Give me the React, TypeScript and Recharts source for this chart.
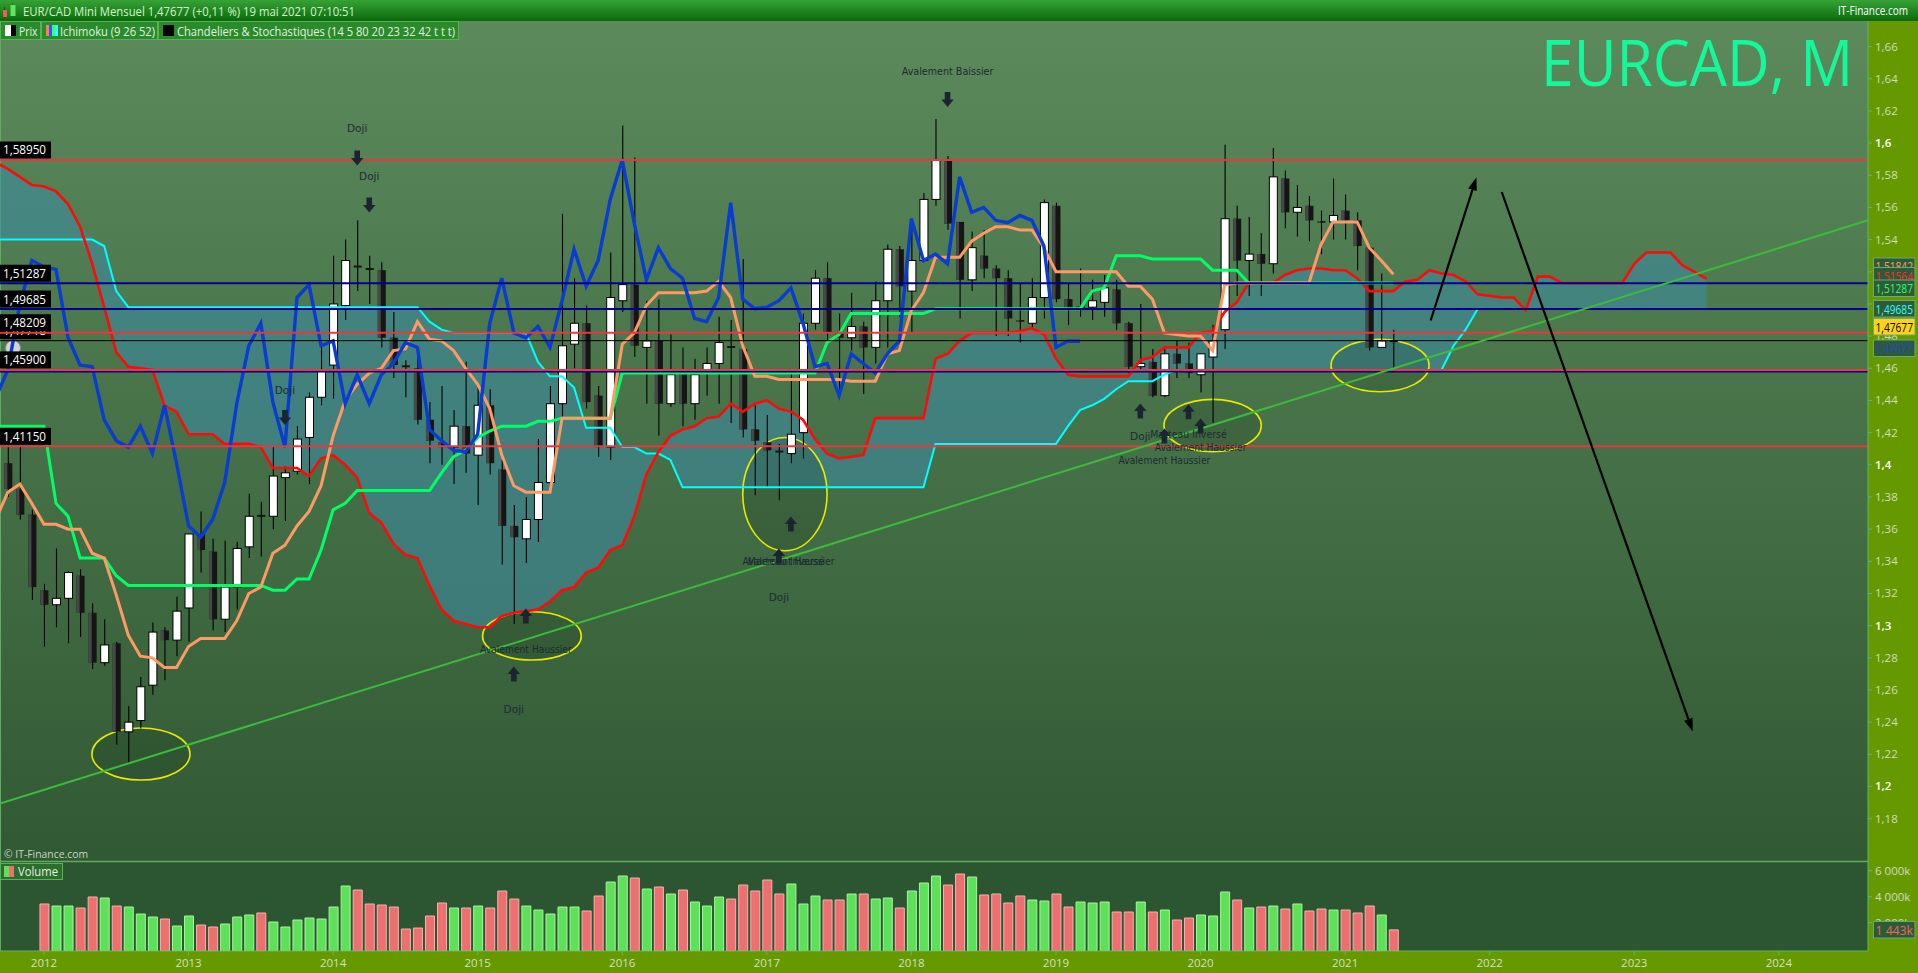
import React from 'react'
import {
  ComposedChart, Bar, Line, Area, XAxis, YAxis, Cell,
  ReferenceLine, ReferenceArea, ReferenceDot,
} from 'recharts'

// month index: 0 = janvier 2012
const CANDLE_START = -3 // octobre 2011
const LINE_START = -4 // indicateurs visibles dès le bord gauche

// OHLC mensuel EUR/CAD, oct 2011 -> mai 2021
const opens = [
  1.401, 1.385, 1.369,
  1.322, 1.313, 1.317, 1.331, 1.308, 1.277, 1.289, 1.234, 1.241, 1.263, 1.297, 1.291,
  1.311, 1.357, 1.346, 1.304, 1.324, 1.349, 1.3685, 1.368, 1.392, 1.396, 1.417, 1.442,
  1.462, 1.499, 1.5235, 1.522, 1.521, 1.479, 1.4615, 1.460, 1.428, 1.414, 1.411, 1.424,
  1.406, 1.437, 1.397, 1.362, 1.354, 1.366, 1.389, 1.438, 1.475, 1.488, 1.443, 1.411,
  1.502, 1.512, 1.473, 1.477, 1.438, 1.457, 1.438, 1.458, 1.463, 1.4735, 1.472, 1.422,
  1.414, 1.4085, 1.407, 1.420, 1.488, 1.516, 1.482, 1.479, 1.486, 1.473, 1.502, 1.534,
  1.508, 1.527, 1.565, 1.589, 1.551, 1.515, 1.530, 1.522, 1.516, 1.490, 1.488, 1.504,
  1.561, 1.503, 1.497, 1.498, 1.501, 1.509, 1.488, 1.461, 1.464, 1.443, 1.469, 1.463,
  1.456, 1.467, 1.484, 1.553, 1.527, 1.531, 1.525, 1.578, 1.557, 1.561, 1.5515, 1.551,
  1.558, 1.552, 1.535, 1.473, 1.477,
]
const highs = [
  1.412, 1.412, 1.372,
  1.326, 1.348, 1.334, 1.335, 1.314, 1.304, 1.290, 1.250, 1.268, 1.302, 1.299, 1.318,
  1.357, 1.371, 1.354, 1.353, 1.352, 1.382, 1.377, 1.411, 1.399, 1.424, 1.445, 1.476,
  1.530, 1.540, 1.552, 1.530, 1.526, 1.495, 1.465, 1.473, 1.439, 1.449, 1.434, 1.464,
  1.448, 1.447, 1.403, 1.375, 1.380, 1.416, 1.449, 1.556, 1.516, 1.499, 1.449, 1.532,
  1.611, 1.591, 1.502, 1.503, 1.481, 1.473, 1.466, 1.473, 1.492, 1.490, 1.528, 1.437,
  1.431, 1.413, 1.458, 1.494, 1.521, 1.526, 1.494, 1.507, 1.489, 1.514, 1.537, 1.536,
  1.553, 1.569, 1.615, 1.592, 1.551, 1.545, 1.546, 1.524, 1.521, 1.513, 1.516, 1.565,
  1.563, 1.513, 1.522, 1.515, 1.518, 1.515, 1.489, 1.500, 1.472, 1.472, 1.477, 1.476,
  1.469, 1.487, 1.599, 1.561, 1.554, 1.544, 1.597, 1.583, 1.574, 1.567, 1.558, 1.578,
  1.568, 1.557, 1.536, 1.519, 1.484,
]
const lows = [
  1.380, 1.366, 1.316,
  1.287, 1.299, 1.289, 1.293, 1.273, 1.275, 1.226, 1.214, 1.236, 1.257, 1.266, 1.281,
  1.290, 1.333, 1.297, 1.296, 1.310, 1.342, 1.343, 1.360, 1.365, 1.394, 1.388, 1.437,
  1.441, 1.490, 1.508, 1.500, 1.473, 1.454, 1.442, 1.425, 1.401, 1.400, 1.388, 1.395,
  1.375, 1.394, 1.338, 1.301, 1.339, 1.352, 1.389, 1.430, 1.460, 1.435, 1.405, 1.403,
  1.495, 1.467, 1.438, 1.418, 1.436, 1.424, 1.428, 1.443, 1.438, 1.426, 1.417, 1.381,
  1.386, 1.378, 1.401, 1.404, 1.484, 1.475, 1.444, 1.471, 1.444, 1.463, 1.473, 1.492,
  1.482, 1.526, 1.561, 1.546, 1.491, 1.508, 1.516, 1.480, 1.480, 1.476, 1.484, 1.491,
  1.501, 1.487, 1.492, 1.490, 1.492, 1.484, 1.457, 1.458, 1.442, 1.442, 1.454, 1.454,
  1.445, 1.426, 1.472, 1.505, 1.505, 1.505, 1.519, 1.547, 1.542, 1.539, 1.531, 1.540,
  1.540, 1.521, 1.471, 1.473, 1.459,
]
const closes = [
  1.385, 1.369, 1.324,
  1.313, 1.317, 1.333, 1.308, 1.277, 1.288, 1.234, 1.240, 1.262, 1.296, 1.291, 1.309,
  1.357, 1.347, 1.304, 1.324, 1.348, 1.368, 1.368, 1.393, 1.395, 1.416, 1.442, 1.459,
  1.500, 1.527, 1.523, 1.5215, 1.479, 1.462, 1.461, 1.428, 1.415, 1.411, 1.424, 1.407,
  1.437, 1.401, 1.362, 1.355, 1.366, 1.389, 1.438, 1.474, 1.488, 1.439, 1.411, 1.504,
  1.512, 1.474, 1.477, 1.438, 1.456, 1.438, 1.456, 1.463, 1.476, 1.473, 1.422, 1.415,
  1.409, 1.408, 1.419, 1.488, 1.516, 1.482, 1.479, 1.486, 1.473, 1.502, 1.534, 1.511,
  1.527, 1.565, 1.5895, 1.550, 1.515, 1.535, 1.522, 1.516, 1.491, 1.489, 1.504, 1.563,
  1.503, 1.497, 1.498, 1.502, 1.510, 1.488, 1.461, 1.463, 1.443, 1.469, 1.463, 1.457,
  1.469, 1.477, 1.553, 1.527, 1.531, 1.525, 1.579, 1.557, 1.560, 1.552, 1.5505, 1.555,
  1.552, 1.536, 1.473, 1.477, 1.47677,
]

// Ichimoku (9 26 52), sept 2011 -> mai 2021
const tenkan = [
  1.366, 1.383, 1.388, 1.376,
  1.363, 1.363, 1.360, 1.360, 1.345, 1.342, 1.319, 1.294, 1.281, 1.280, 1.274, 1.274,
  1.287, 1.292, 1.292, 1.292, 1.303, 1.320, 1.324, 1.345, 1.350, 1.362, 1.371, 1.387,
  1.418, 1.440, 1.450, 1.457, 1.460, 1.471, 1.472, 1.489, 1.478, 1.477, 1.471, 1.460,
  1.450, 1.435, 1.406, 1.387, 1.383, 1.383, 1.383, 1.429, 1.429, 1.429, 1.429, 1.429,
  1.475, 1.482, 1.499, 1.507, 1.507, 1.507, 1.507, 1.508, 1.514, 1.504, 1.474, 1.455,
  1.455, 1.453, 1.453, 1.453, 1.453, 1.453, 1.453, 1.452, 1.452, 1.452, 1.469, 1.471,
  1.496, 1.507, 1.529, 1.529, 1.529, 1.539, 1.544, 1.548, 1.548, 1.546, 1.546, 1.535,
  1.520, 1.520, 1.520, 1.520, 1.520, 1.520, 1.511, 1.511, 1.503, 1.482, 1.481, 1.480,
  1.480, 1.471, 1.512, 1.513, 1.513, 1.513, 1.513, 1.513, 1.513, 1.513, 1.537, 1.551,
  1.551, 1.551, 1.535, 1.527, 1.51842,
]
const kijun = [
  1.424, 1.424, 1.424, 1.424,
  1.424, 1.376, 1.368, 1.342, 1.342, 1.342, 1.331, 1.325, 1.325, 1.325, 1.325, 1.325,
  1.325, 1.325, 1.325, 1.325, 1.325, 1.325, 1.325, 1.322, 1.322, 1.329, 1.329, 1.347,
  1.372, 1.376, 1.384, 1.384, 1.384, 1.384, 1.384, 1.384, 1.384, 1.395, 1.405, 1.409,
  1.417, 1.421, 1.424, 1.424, 1.424, 1.427, 1.427, 1.429, 1.429, 1.429, 1.429, 1.429,
  1.457, 1.457, 1.457, 1.457, 1.457, 1.457, 1.457, 1.457, 1.457, 1.457, 1.457, 1.457,
  1.457, 1.457, 1.457, 1.457, 1.457, 1.476, 1.481, 1.494, 1.494, 1.494, 1.494, 1.494,
  1.494, 1.494, 1.497, 1.497, 1.497, 1.497, 1.497, 1.497, 1.497, 1.497, 1.497, 1.497,
  1.497, 1.497, 1.497, 1.508, 1.510, 1.530, 1.530, 1.530, 1.528, 1.528, 1.528, 1.528,
  1.528, 1.521, 1.521, 1.521, 1.513, 1.513, 1.513, 1.513, 1.513, 1.513, 1.513, 1.513,
  1.513, 1.513, 1.513, 1.513, 1.51287,
]
// spans plotted 26 months ahead -> up to juin 2023
const senkouA = [
  1.588, 1.584, 1.579, 1.574,
  1.573, 1.570, 1.562, 1.548, 1.525, 1.498, 1.470, 1.461, 1.460, 1.459, 1.437, 1.433,
  1.419, 1.419, 1.419, 1.413, 1.413, 1.413, 1.411, 1.398, 1.398, 1.398, 1.393, 1.404,
  1.406, 1.400, 1.392, 1.370, 1.364, 1.351, 1.344, 1.342, 1.325, 1.310, 1.303, 1.301,
  1.299, 1.299, 1.306, 1.308, 1.309, 1.310, 1.315, 1.322, 1.324, 1.333, 1.336, 1.347,
  1.350, 1.368, 1.394, 1.408, 1.418, 1.422, 1.424, 1.429, 1.430, 1.438, 1.433, 1.438,
  1.440, 1.435, 1.433, 1.428, 1.416, 1.407, 1.404, 1.405, 1.406, 1.429, 1.429, 1.429,
  1.429, 1.429, 1.466, 1.469, 1.477, 1.482, 1.482, 1.482, 1.482, 1.483, 1.485, 1.481,
  1.466, 1.456, 1.455, 1.455, 1.455, 1.455, 1.455, 1.465, 1.467, 1.473, 1.473, 1.473,
  1.482, 1.483, 1.495, 1.501, 1.513, 1.513, 1.513, 1.518, 1.521, 1.522, 1.522, 1.521,
  1.521, 1.516, 1.508, 1.508, 1.508, 1.514, 1.515, 1.521, 1.519, 1.518, 1.514, 1.506,
  1.505, 1.504, 1.504, 1.496, 1.517, 1.517, 1.513, 1.513, 1.513, 1.513, 1.513, 1.513,
  1.525, 1.532, 1.532, 1.532, 1.524, 1.520, 1.51564,
]
const senkouB = [
  1.540, 1.540, 1.540, 1.540,
  1.540, 1.540, 1.540, 1.540, 1.540, 1.536, 1.508, 1.498, 1.498, 1.498, 1.498, 1.498,
  1.498, 1.498, 1.498, 1.498, 1.498, 1.498, 1.498, 1.498, 1.498, 1.498, 1.498, 1.498,
  1.498, 1.498, 1.498, 1.498, 1.498, 1.498, 1.498, 1.498, 1.489, 1.484, 1.482, 1.482,
  1.482, 1.482, 1.482, 1.482, 1.482, 1.464, 1.455, 1.455, 1.448, 1.423, 1.423, 1.423,
  1.411, 1.411, 1.407, 1.407, 1.403, 1.386, 1.386, 1.386, 1.386, 1.386, 1.386, 1.386,
  1.386, 1.386, 1.386, 1.386, 1.386, 1.386, 1.386, 1.386, 1.386, 1.386, 1.386, 1.386,
  1.386, 1.386, 1.413, 1.413, 1.413, 1.413, 1.413, 1.413, 1.413, 1.413, 1.413, 1.413,
  1.413, 1.424, 1.434, 1.437, 1.441, 1.447, 1.452, 1.452, 1.452, 1.456, 1.459, 1.459,
  1.459, 1.459, 1.459, 1.459, 1.459, 1.459, 1.459, 1.459, 1.459, 1.459, 1.459, 1.459,
  1.459, 1.459, 1.459, 1.459, 1.459, 1.459, 1.459, 1.459, 1.459, 1.474, 1.484, 1.49685,
  1.49685, 1.49685, 1.49685, 1.49685, 1.49685, 1.49685, 1.49685, 1.49685, 1.49685, 1.49685, 1.49685, 1.49685,
  1.49685, 1.49685, 1.49685, 1.49685, 1.49685, 1.49685, 1.49685,
]

// volume (k), janvier 2012 -> mai 2021
const volumes = [
  3436, 3282, 3282, 3128, 3975, 3898, 3282, 3205, 2666, 2435, 2281, 1742,
  2512, 1819, 1665, 1896, 2435, 2589, 2743, 2050, 1665, 2204, 2358, 2281,
  3205, 4822, 4514, 3436, 3359, 3205, 1511, 1588, 2512, 3513, 3128, 3128,
  3282, 3128, 4437, 3821, 3282, 2974, 2666, 3205, 3205, 2897, 4052, 5130,
  5592, 5438, 4591, 4745, 4206, 4514, 3590, 3282, 3975, 3821, 4899, 4437,
  5284, 4206, 4976, 3436, 4052, 3744, 3744, 4206, 4206, 3821, 3898, 3128,
  4437, 5053, 5592, 4899, 5746, 5515, 4129, 4206, 3513, 4052, 3744, 3667,
  4206, 3205, 3590, 3513, 3590, 2820, 2820, 3590, 2820, 2974, 2204, 2358,
  2589, 2512, 4360, 3744, 3128, 3205, 3282, 3051, 3436, 2897, 3051, 2974,
  2974, 2743, 3282, 2589, 1443,
]

const priceTicks = [
  1.18, 1.2, 1.22, 1.24, 1.26, 1.28, 1.3, 1.32, 1.34, 1.36, 1.38, 1.4, 1.42,
  1.44, 1.46, 1.48, 1.5, 1.52, 1.54, 1.56, 1.58, 1.6, 1.62, 1.64, 1.66,
]
const volumeTicks = [2000, 4000, 6000]
const yearTicks = [0, 12, 24, 36, 48, 60, 72, 84, 96, 108, 120, 132, 144]
const yearLabels = ['2012', '2013', '2014', '2015', '2016', '2017', '2018', '2019', '2020', '2021', '2022', '2023', '2024']

// niveaux horizontaux tracés
const levels = [
  { v: 1.5895, color: '#e8383c', w: 2, tag: '1,58950' },
  { v: 1.51287, color: '#00008f', w: 2, tag: '1,51287' },
  { v: 1.49685, color: '#00008f', w: 2, tag: '1,49685' },
  { v: 1.47718, color: '#000000', w: 1, tag: '1,47718' },
  { v: 1.48209, color: '#e8383c', w: 2, tag: '1,48209' },
  { v: 1.4579, color: '#00008f', w: 1.5, tag: '' },
  { v: 1.459, color: '#e8383c', w: 2, tag: '1,45900' },
  { v: 1.4115, color: '#e8383c', w: 2, tag: '1,41150' },
]

const trendLine = [{ x: -3.65, y: 1.1894 }, { x: 151.4, y: 1.552 }]
const arrows = [
  [{ x: 115.1, y: 1.4897 }, { x: 118.9, y: 1.5787 }],
  [{ x: 121.0, y: 1.5696 }, { x: 136.85, y: 1.2342 }],
]
const ellipses = [
  { m: 8.05, v: 1.2202, dm: 4.07, dv: 0.0162 },
  { m: 40.5, v: 1.2936, dm: 4.1, dv: 0.0150 },
  { m: 61.5, v: 1.3818, dm: 3.5, dv: 0.0352 },
  { m: 97.0, v: 1.4244, dm: 4.04, dv: 0.0163 },
  { m: 110.9, v: 1.4617, dm: 4.07, dv: 0.0163 },
]
// figures de chandeliers : flèche + texte
const patternArrows = [
  { m: 75, v: 1.6271, dir: 'down' },
  { m: 26, v: 1.5907, dir: 'down' },
  { m: 27, v: 1.5615, dir: 'down' },
  { m: 20, v: 1.4294, dir: 'down' },
  { m: 40, v: 1.3060, dir: 'up' },
  { m: 39, v: 1.2699, dir: 'up' },
  { m: 62, v: 1.3632, dir: 'up' },
  { m: 61, v: 1.3433, dir: 'up' },
  { m: 91, v: 1.4335, dir: 'up' },
  { m: 93, v: 1.4179, dir: 'up' },
  { m: 95, v: 1.4330, dir: 'up' },
  { m: 96, v: 1.4241, dir: 'up' },
]
const patternTexts = [
  { m: 75, v: 1.6448, text: 'Avalement Baissier' },
  { m: 26, v: 1.6090, text: 'Doji' },
  { m: 27, v: 1.5794, text: 'Doji' },
  { m: 20, v: 1.4461, text: 'Doji' },
  { m: 40, v: 1.2851, text: 'Avalement Haussier' },
  { m: 39, v: 1.2479, text: 'Doji' },
  { m: 61.8, v: 1.3399, text: 'Avalement Haussier' },
  { m: 61.6, v: 1.3399, text: 'Marteau Inversé' },
  { m: 61, v: 1.3172, text: 'Doji' },
  { m: 91, v: 1.4175, text: 'Doji' },
  { m: 93, v: 1.4025, text: 'Avalement Haussier' },
  { m: 95, v: 1.4190, text: 'Marteau Inversé' },
  { m: 96, v: 1.4106, text: 'Avalement Haussier' },
]

const PRICE_DOMAIN = [1.15368, 1.68897]
const VOL_DOMAIN = [-183, 6747]
const X_DOMAIN = [-3.65, 151.4]

const priceRows = senkouA.map((sa, i) => {
  const m = LINE_START + i
  const sb = senkouB[i]
  const row: any = { m, sa, sb, cloud: [Math.min(sa, sb), Math.max(sa, sb)] }
  if (i < tenkan.length) { row.tk = tenkan[i]; row.kj = kijun[i] }
  const ci = m - CANDLE_START
  if (ci >= 0 && ci < closes.length) {
    row.o = opens[ci]; row.h = highs[ci]; row.l = lows[ci]; row.c = closes[ci]
  }
  if (ci + 26 < closes.length) row.ch = closes[ci + 26]
  return row
})

const volumeRows = volumes.map((v, m) => ({
  m, v, up: closes[m - CANDLE_START] >= opens[m - CANDLE_START],
}))

const fmtPrice = (v: number) => v.toFixed(2).replace(/0$/, '').replace('.', ',')
const fmtVol = (v: number) => `${v / 1000} 000k`

function Candle(props: any) {
  const { x, y, width, height, payload } = props
  if (!payload || payload.h == null || height == null) return null
  const { o, h, l, c } = payload
  const k = height / (h - l || 1e-6)
  const cx = x + width / 2
  const top = y + (h - Math.max(o, c)) * k
  const bot = y + (h - Math.min(o, c)) * k
  const bw = 8
  const bh = bot - top
  let body
  if (bh < 1.6) {
    body = <line x1={cx - bw / 2} x2={cx + bw / 2} y1={top + bh / 2} y2={top + bh / 2} stroke="#151515" strokeWidth={2} />
  } else if (c >= o) {
    body = <rect x={cx - bw / 2} y={top} width={bw} height={bh} fill="#ffffff" stroke="#000" strokeWidth={1} />
  } else {
    body = (
      <g>
        <rect x={cx - bw / 2} y={top} width={bw} height={bh} fill="#151515" />
        <rect x={cx - bw / 2} y={top} width={3} height={bh} fill="#484848" />
      </g>
    )
  }
  return (
    <g>
      <line x1={cx} x2={cx} y1={y} y2={y + height} stroke="#000" strokeWidth={1.1} />
      {body}
    </g>
  )
}

function LevelTag({ viewBox, text }: any) {
  if (!viewBox || !text) return null
  const y = viewBox.y
  return (
    <g>
      <rect x={viewBox.x} y={y - 18.5} width={51} height={17} fill="#000" />
      <text x={viewBox.x + 3} y={y - 5.5} fill="#fff" fontSize={13} fontFamily="Open Sans"
        textLength={43} lengthAdjust="spacingAndGlyphs">{text}</text>
    </g>
  )
}

function ArrowLine(props: any) {
  const { x1, y1, x2, y2 } = props
  const a = Math.atan2(y2 - y1, x2 - x1)
  const len = 13, half = 4.5
  const bx = x2 - len * Math.cos(a), by = y2 - len * Math.sin(a)
  const p1 = `${bx - half * Math.sin(a)},${by + half * Math.cos(a)}`
  const p2 = `${bx + half * Math.sin(a)},${by - half * Math.cos(a)}`
  return (
    <g>
      <line x1={x1} y1={y1} x2={bx} y2={by} stroke="#000" strokeWidth={2.2} />
      <polygon points={`${x2},${y2} ${p1} ${p2}`} fill="#000" />
    </g>
  )
}

function BlockArrow({ cx, cy, dir }: any) {
  const s = dir === 'down' ? 1 : -1
  const pts = [[-2.8, -7.5], [2.8, -7.5], [2.8, 0], [6.2, 0], [0, 7.5], [-6.2, 0], [-2.8, 0]]
  return <polygon points={pts.map(([px, py]) => `${cx + px},${cy + s * py}`).join(' ')} fill="#1b2430" />
}

const priceTick = (p: any) => {
  const v = p.payload.value as number
  const whole = Math.abs(v * 10 - Math.round(v * 10)) < 1e-6
  return (
    <text x={p.x} y={p.y} dy={4} textAnchor="start" fontSize={11.5} fontFamily="Open Sans"
      fill={whole ? '#ffffff' : '#d2dac4'} fontWeight={whole ? 600 : 400}>{fmtPrice(v)}</text>
  )
}
const volTick = (p: any) => (
  <text x={p.x} y={p.y} dy={4} textAnchor="start" fontSize={11.5} fontFamily="Open Sans" fill="#d2dac4">
    {fmtVol(p.payload.value)}
  </text>
)
const yearTick = (p: any) => (
  <text x={p.x} y={p.y} dy={10} textAnchor="middle" fontSize={11.5} fontFamily="Open Sans" fill="#d6dec8">
    {yearLabels[yearTicks.indexOf(p.payload.value)]}
  </text>
)

function SideTag({ y, text, color, bg = '#2d5a39' }: any) {
  return (
    <g>
      <rect x={1873.5} y={y} width={41.5} height={16.5} fill={bg} stroke="#6aa876" strokeWidth={1} />
      <text x={1875.5} y={y + 13} fill={color} fontSize={13} fontFamily="Open Sans"
        textLength={37.5} lengthAdjust="spacingAndGlyphs">{text}</text>
    </g>
  )
}

function LegendBox({ x, w, label, textW, children }: any) {
  return (
    <g>
      <rect x={x + 0.5} y={21.5} width={w} height={18} fill="#2b8a2b" stroke="#55b455" strokeWidth={1} />
      {children}
      <text x={x + 19} y={35.5} fill="#e2f2e0" fontSize={12.5}
        fontFamily="Open Sans" textLength={textW} lengthAdjust="spacingAndGlyphs">{label}</text>
    </g>
  )
}

export default function App() {
  return (
    <div style={{ position: 'absolute', left: 0, top: 0, width: 1918, height: 973, overflow: 'hidden', background: '#669900' }}>
      <svg width={1918} height={973} style={{ position: 'absolute', left: 0, top: 0 }}>
        <defs>
          <linearGradient id="paneBg" x1="0" y1="0" x2="0" y2="1">
            <stop offset="0%" stopColor="#5d8b5d" />
            <stop offset="100%" stopColor="#315934" />
          </linearGradient>
        </defs>
        <rect x={0} y={0} width={1868} height={861} fill="url(#paneBg)" />
        <rect x={0} y={861} width={1868} height={90} fill="#2c5631" />
        <line x1={0} x2={1868} y1={861.5} y2={861.5} stroke="#5fae5f" strokeWidth={1.5} />
        <line x1={0.5} x2={0.5} y1={21} y2={951} stroke="#5fae5f" strokeWidth={1} />
        <circle cx={13} cy={348} r={7.5} fill="#d4d4d4" stroke="#8a8a8a" strokeWidth={1} />
      </svg>

      <div style={{ position: 'absolute', left: 0, top: 0 }}>
        <ComposedChart width={1918} height={861} data={priceRows} margin={{ top: 0, right: 0, bottom: 0, left: 0 }}>
          <XAxis dataKey="m" type="number" domain={X_DOMAIN} allowDataOverflow hide />
          <YAxis orientation="right" width={50} domain={PRICE_DOMAIN} allowDataOverflow ticks={priceTicks}
            interval={0} tick={priceTick} tickSize={4} tickMargin={3}
            axisLine={{ stroke: '#63b463' }} tickLine={{ stroke: '#63b463' }} />
          <Area dataKey="cloud" type="linear" stroke="none" fill="#3c8ca8" fillOpacity={0.55}
            dot={false} activeDot={false} isAnimationActive={false} connectNulls />
          <Bar dataKey={(d: any) => (d.h == null ? null : [d.l, d.h])} barSize={9}
            shape={(p: any) => <Candle {...p} />} isAnimationActive={false} />
          <Line dataKey="sb" type="linear" stroke="#00ffff" strokeWidth={2} dot={false} activeDot={false} isAnimationActive={false} />
          <Line dataKey="sa" type="linear" stroke="#ff0a0a" strokeWidth={2.6} dot={false} activeDot={false} isAnimationActive={false} />
          <Line dataKey="kj" type="linear" stroke="#00ff66" strokeWidth={3} dot={false} activeDot={false} isAnimationActive={false} />
          <Line dataKey="tk" type="linear" stroke="#ff9966" strokeWidth={3} dot={false} activeDot={false} isAnimationActive={false} />
          <Line dataKey="ch" type="linear" stroke="#0a3cd2" strokeWidth={3.4} dot={false} activeDot={false} isAnimationActive={false} />

          {levels.map((lv) => (
            <ReferenceLine key={lv.v} y={lv.v} stroke={lv.color} strokeWidth={lv.w}
              label={(p: any) => <LevelTag viewBox={p.viewBox} text={lv.tag} />} />
          ))}
          <ReferenceLine segment={trendLine} stroke="#3cbc3c" strokeWidth={2} ifOverflow="hidden" />
          {arrows.map((seg, i) => (
            <ReferenceLine key={`a${i}`} segment={seg} ifOverflow="visible" shape={(p: any) => <ArrowLine {...p} />} />
          ))}
          {ellipses.map((e, i) => (
            <ReferenceArea key={`e${i}`} x1={e.m - e.dm} x2={e.m + e.dm} y1={e.v - e.dv} y2={e.v + e.dv}
              ifOverflow="visible"
              shape={(p: any) => (
                <ellipse cx={p.x + p.width / 2} cy={p.y + p.height / 2} rx={Math.abs(p.width) / 2} ry={Math.abs(p.height) / 2}
                  fill="rgba(10,30,10,0.14)" stroke="#e8e800" strokeWidth={1.6} />
              )} />
          ))}
          {patternArrows.map((a, i) => (
            <ReferenceDot key={`pa${i}`} x={a.m} y={a.v} r={1} ifOverflow="visible"
              shape={(p: any) => <BlockArrow cx={p.cx} cy={p.cy} dir={a.dir} />} />
          ))}
          {patternTexts.map((t, i) => (
            <ReferenceDot key={`pt${i}`} x={t.m} y={t.v} r={1} ifOverflow="visible"
              shape={(p: any) => (
                <text x={p.cx} y={p.cy} dy={3.5} textAnchor="middle" fontSize={10} fill="#1d2a34"
                  fontFamily="DejaVu Sans" textLength={t.text.length * 5.1} lengthAdjust="spacingAndGlyphs">{t.text}</text>
              )} />
          ))}
        </ComposedChart>
      </div>

      <div style={{ position: 'absolute', left: 0, top: 861 }}>
        <ComposedChart width={1918} height={112} data={volumeRows} margin={{ top: 0, right: 0, bottom: 0, left: 0 }}>
          <XAxis dataKey="m" type="number" domain={X_DOMAIN} allowDataOverflow ticks={yearTicks} interval={0}
            height={22} tick={yearTick} tickSize={4} tickMargin={2}
            axisLine={{ stroke: '#63b463' }} tickLine={{ stroke: '#63b463' }} />
          <YAxis orientation="right" width={50} domain={VOL_DOMAIN} allowDataOverflow ticks={volumeTicks}
            interval={0} tick={volTick} tickSize={4} tickMargin={3}
            axisLine={{ stroke: '#63b463' }} tickLine={{ stroke: '#63b463' }} />
          <Bar dataKey={(d: any) => [VOL_DOMAIN[0], d.v]} barSize={9} isAnimationActive={false}>
            {volumeRows.map((r) => (
              <Cell key={r.m} fill={r.up ? '#5fe05a' : '#ec7070'} stroke={r.up ? '#a6f59c' : '#f7b0b0'} strokeWidth={1} />
            ))}
          </Bar>
        </ComposedChart>
      </div>

      <svg width={1918} height={973} style={{ position: 'absolute', left: 0, top: 0, pointerEvents: 'none' }}>
        <defs>
          <linearGradient id="titleBg" x1="0" y1="0" x2="0" y2="1">
            <stop offset="0%" stopColor="#36a336" />
            <stop offset="100%" stopColor="#0b690b" />
          </linearGradient>
        </defs>
        <rect x={0} y={0} width={1918} height={21} fill="url(#titleBg)" />
        <line x1={4.5} x2={4.5} y1={7} y2={19} stroke="#7a2020" />
        <rect x={3} y={10} width={4} height={7} fill="#ee5a5a" />
        <line x1={12.5} x2={12.5} y1={3} y2={17} stroke="#207a20" />
        <rect x={10.5} y={5} width={5} height={11} fill="#5ee65e" />
        <text x={23} y={16} fill="#d6f3cf" fontSize={13} fontFamily="Open Sans" textLength={332}
          lengthAdjust="spacingAndGlyphs">EUR/CAD Mini Mensuel 1,47677 (+0,11 %) 19 mai 2021 07:10:51</text>
        <text x={1838} y={15} fill="#ffffff" fontSize={12} fontFamily="Open Sans" textLength={70}
          lengthAdjust="spacingAndGlyphs">IT-Finance.com</text>

        <LegendBox x={0} w={40} label="Prix" textW={18.5}>
          <rect x={5} y={25} width={6} height={11} fill="#ffffff" />
          <rect x={11} y={25} width={5} height={11} fill="#000000" />
        </LegendBox>
        <LegendBox x={41} w={116} label="Ichimoku (9 26 52)" textW={95}>
          <rect x={46} y={25} width={3} height={11} fill="#ff7b5a" />
          <rect x={49} y={25} width={3} height={11} fill="#3355ff" />
          <rect x={52} y={25} width={3} height={11} fill="#33ff77" />
          <rect x={55} y={25} width={3} height={11} fill="#33ffff" />
        </LegendBox>
        <LegendBox x={158} w={300} label="Chandeliers & Stochastiques (14 5 80 20 23 32 42 t t t)" textW={278}>
          <rect x={163} y={25} width={11} height={11} fill="#000000" />
        </LegendBox>

        <text x={1541} y={86} fill="#14f79a" fontSize={64} fontFamily="Open Sans" textLength={312}
          lengthAdjust="spacingAndGlyphs">EURCAD, M</text>

        <text x={4} y={858} fill="#c9d8c4" fontSize={11} fontFamily="Open Sans" textLength={84}
          lengthAdjust="spacingAndGlyphs">© IT-Finance.com</text>
        <rect x={0.5} y={863.5} width={62} height={16} fill="#2b6e2e" stroke="#55b455" strokeWidth={1} />
        <rect x={4} y={866} width={5} height={11} fill="#5fe05a" />
        <rect x={9} y={866} width={5} height={11} fill="#ec7070" />
        <text x={18} y={876} fill="#e2f2e0" fontSize={12} fontFamily="Open Sans" textLength={40}
          lengthAdjust="spacingAndGlyphs">Volume</text>

        <SideTag y={258} text="1,51842" color="#ff9a62" />
        <SideTag y={267.5} text="1,51564" color="#ff2a2a" />
        <SideTag y={280} text="1,51287" color="#2bff6e" />
        <SideTag y={300.5} text="1,49685" color="#2bffff" />
        <SideTag y={318.5} text="1,47677" color="#000000" bg="#ffd21a" />
        <SideTag y={340} text="1,47677" color="#1f48d8" />
        <SideTag y={921.5} text="1 443k" color="#f06464" />
      </svg>
    </div>
  )
}
